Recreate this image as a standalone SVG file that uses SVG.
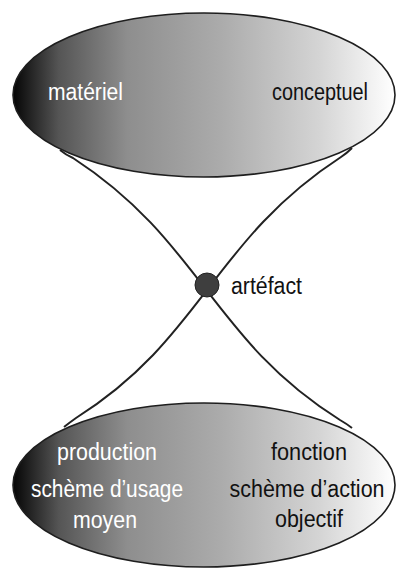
<svg xmlns="http://www.w3.org/2000/svg" width="396" height="568" viewBox="0 0 396 568">
<defs>
<linearGradient id="g" x1="0" y1="0" x2="1" y2="0">
<stop offset="0" stop-color="#050505"/>
<stop offset="0.12" stop-color="#555"/>
<stop offset="0.3" stop-color="#8e8e8e"/>
<stop offset="0.55" stop-color="#acacac"/>
<stop offset="0.8" stop-color="#d4d4d4"/>
<stop offset="1" stop-color="#ffffff"/>
</linearGradient>
<style>
.ell{fill:url(#g);stroke:#1e1e1e;stroke-width:1.6}
.t{font-family:"Liberation Sans",Arial,sans-serif;font-size:23px}
.w{fill:#ffffff}
.b{fill:#111111}
.m{text-anchor:middle}
.c{fill:none;stroke:#222;stroke-width:2}
</style>
</defs>
<g id="connectors">
<path class="c" d="M60,150 Q66,155 73,158 C202,242 211,339 340,420 Q347,424 352,428"/>
<path class="c" d="M352,148 Q347,153 341,157 C212,241 203,338 76,418 Q69,423 64,427"/>
</g>
<g id="top">
<ellipse class="ell" cx="204" cy="95" rx="191" ry="82"/>
<text class="t w" x="48" y="100" textLength="75" lengthAdjust="spacingAndGlyphs">matériel</text>
<text class="t b" x="272" y="100" textLength="96" lengthAdjust="spacingAndGlyphs">conceptuel</text>
</g>
<g id="bottom">
<ellipse class="ell" cx="204" cy="485" rx="191" ry="82"/>
<text class="t w m" x="107" y="460" textLength="100" lengthAdjust="spacingAndGlyphs">production</text>
<text class="t w m" x="107" y="497" textLength="152" lengthAdjust="spacingAndGlyphs">schème d’usage</text>
<text class="t w m" x="105" y="528" textLength="64" lengthAdjust="spacingAndGlyphs">moyen</text>
<text class="t b m" x="309" y="460" textLength="76" lengthAdjust="spacingAndGlyphs">fonction</text>
<text class="t b m" x="307" y="497" textLength="155" lengthAdjust="spacingAndGlyphs">schème d’action</text>
<text class="t b m" x="309" y="527" textLength="68" lengthAdjust="spacingAndGlyphs">objectif</text>
</g>
<g id="artefact">
<circle cx="207" cy="285" r="12" fill="#3e3e3e" stroke="#222" stroke-width="1"/>
<text class="t b" x="231" y="294" textLength="71" lengthAdjust="spacingAndGlyphs">artéfact</text>
</g>
</svg>
